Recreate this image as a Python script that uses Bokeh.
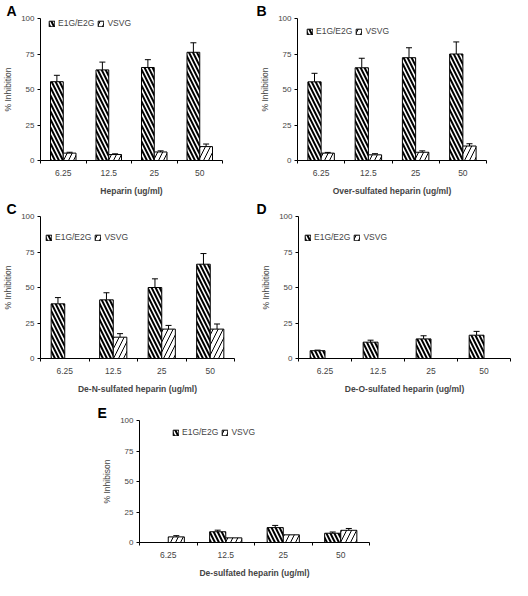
from bokeh.plotting import figure
from bokeh.models import (ColumnDataSource, Range1d, FixedTicker, Whisker, TeeHead,
                          Legend, LegendItem, Spacer)
from bokeh.layouts import column, row
from bokeh.embed import file_html
from bokeh.resources import INLINE

# ---------------- data ----------------
doses = ["6.25", "12.5", "25", "50"]
series_names = ["E1G/E2G", "VSVG"]
y_ticks = [0, 25, 50, 75, 100]

a_e1g = [55.5, 63.8, 65.5, 76.2]
a_e1g_err = [4.5, 5.5, 5.5, 6.7]
a_vsvg = [5.2, 4.2, 6.0, 9.8]
a_vsvg_err = [0.6, 0.5, 0.8, 1.8]

b_e1g = [55.4, 65.3, 72.4, 75.0]
b_e1g_err = [6.0, 6.7, 7.0, 8.5]
b_vsvg = [5.2, 4.0, 5.8, 10.2]
b_vsvg_err = [0.5, 0.8, 1.0, 1.6]

c_e1g = [38.5, 41.3, 50.0, 66.4]
c_e1g_err = [4.4, 5.0, 6.1, 7.5]
c_vsvg = [0.0, 15.0, 20.7, 20.7]
c_vsvg_err = [0.0, 2.5, 2.6, 3.6]

d_e1g = [5.5, 11.5, 13.8, 16.4]
d_e1g_err = [0.4, 1.4, 2.2, 2.7]
d_vsvg = [0.0, 0.0, 0.0, 0.0]
d_vsvg_err = [0.0, 0.0, 0.0, 0.0]

e_e1g = [0.0, 8.8, 12.2, 7.6]
e_e1g_err = [0.0, 1.3, 1.8, 1.0]
e_vsvg = [4.6, 3.8, 6.3, 10.0]
e_vsvg_err = [1.0, 0.0, 0.0, 1.5]

FONT = "Liberation Sans"


def panel(letter, xlabel, ylabel, e1g, e1g_err, vsvg, vsvg_err,
          w, h, bl, bt, br, bb, leg_dx, leg_dy, let_off):
    p = figure(width=w, height=h, min_border_left=bl, min_border_top=bt,
               min_border_right=br, min_border_bottom=bb,
               x_range=Range1d(0.5, len(doses) + 0.5), y_range=Range1d(0, 100),
               output_backend="svg", toolbar_location=None, title=letter)
    fh = h - bt - bb
    pos = list(range(1, len(doses) + 1))
    bw = 0.28
    x1 = [q - bw / 2 for q in pos]
    x2 = [q + bw / 2 for q in pos]
    s1 = ColumnDataSource(dict(x=x1, top=e1g))
    s2 = ColumnDataSource(dict(x=x2, top=vsvg))
    r1 = p.vbar(x="x", top="top", width=bw, source=s1, fill_color="white",
                line_color="black", line_width=1, hatch_pattern="\\",
                hatch_color="black", hatch_weight=2, hatch_scale=8)
    r2 = p.vbar(x="x", top="top", width=bw, source=s2, fill_color="white",
                line_color="black", line_width=1, hatch_pattern="/",
                hatch_color="black", hatch_weight=1, hatch_scale=10)
    for xs, vals, errs in ((x1, e1g, e1g_err), (x2, vsvg, vsvg_err)):
        keep = [i for i, e in enumerate(errs) if e > 0]
        if not keep:
            continue
        ws = ColumnDataSource(dict(x=[xs[i] for i in keep],
                                   lower=[vals[i] for i in keep],
                                   upper=[vals[i] + errs[i] for i in keep]))
        p.add_layout(Whisker(source=ws, base="x", lower="lower", upper="upper",
                             dimension="height", line_color="black", line_width=1,
                             upper_head=TeeHead(size=6, line_width=1, line_color="black"),
                             lower_head=None))

    p.title.align = "left"
    p.title.offset = let_off
    p.title.standoff = 0
    p.title.text_font = FONT
    p.title.text_font_size = "14px"
    p.title.text_font_style = "bold"
    p.title.text_color = "black"

    p.xgrid.visible = False
    p.ygrid.visible = False
    p.outline_line_color = None

    xa = p.xaxis[0]
    xa.ticker = FixedTicker(ticks=pos, minor_ticks=[q - 0.5 for q in pos] + [pos[-1] + 0.5])
    xa.major_label_overrides = {q: d for q, d in zip(pos, doses)}
    xa.major_tick_line_color = None
    xa.major_tick_out = 3
    xa.major_tick_in = 0
    xa.minor_tick_line_color = "black"
    xa.minor_tick_out = 3
    xa.minor_tick_in = 0
    xa.major_label_standoff = 6
    xa.axis_label = xlabel
    xa.axis_label_standoff = 7
    xa.axis_label_text_font = FONT
    xa.axis_label_text_font_size = "8.5px"
    xa.axis_label_text_font_style = "bold"
    xa.major_label_text_font = FONT
    xa.major_label_text_font_size = "8.5px"
    xa.axis_line_color = "black"

    ya = p.yaxis[0]
    ya.ticker = FixedTicker(ticks=y_ticks)
    ya.major_tick_out = 3
    ya.major_tick_in = 0
    ya.minor_tick_line_color = None
    ya.major_label_standoff = 3
    ya.axis_label = ylabel
    ya.axis_label_standoff = 5
    ya.axis_label_text_font = FONT
    ya.axis_label_text_font_size = "8.5px"
    ya.axis_label_text_font_style = "normal"
    ya.major_label_text_font = FONT
    ya.major_label_text_font_size = "8px"
    ya.axis_line_color = "black"

    legend = Legend(items=[LegendItem(label=series_names[0], renderers=[r1]),
                           LegendItem(label=series_names[1], renderers=[r2])],
                    orientation="horizontal", location=(leg_dx, fh - leg_dy - 5),
                    padding=0, margin=0, spacing=3, label_standoff=3,
                    glyph_width=7, glyph_height=7, label_height=8,
                    label_text_font=FONT, label_text_font_size="8.5px",
                    border_line_alpha=0, background_fill_alpha=0)
    p.add_layout(legend)
    return p


pa = panel("A", "Heparin (ug/ml)", "% Inhibition", a_e1g, a_e1g_err, a_vsvg, a_vsvg_err,
           256, 198, 34, 18, 34, 38, 8, 5, -34)
pb = panel("B", "Over-sulfated heparin (ug/ml)", "% Inhibition", b_e1g, b_e1g_err, b_vsvg, b_vsvg_err,
           256, 198, 41, 18, 26, 38, 9, 13, -41)
pc = panel("C", "De-N-sulfated heparin (ug/ml)", "% Inhibition", c_e1g, c_e1g_err, c_vsvg, c_vsvg_err,
           256, 198, 34, 18, 22, 38, 5, 21, -34)
pd_ = panel("D", "De-O-sulfated heparin (ug/ml)", "% Inhibition", d_e1g, d_e1g_err, d_vsvg, d_vsvg_err,
            256, 198, 42, 18, 2, 38, 6, 21, -42)
pe = panel("E", "De-sulfated heparin (ug/ml)", "% Inhibison", e_e1g, e_e1g_err, e_vsvg, e_vsvg_err,
           280, 184, 44, 24, 6, 38, 33, 12, -42)

layout = column(row(pa, pb), row(pc, pd_), row(Spacer(width=95, height=184), pe))

with open("out.html", "w") as f:
    f.write(file_html(layout, INLINE))
